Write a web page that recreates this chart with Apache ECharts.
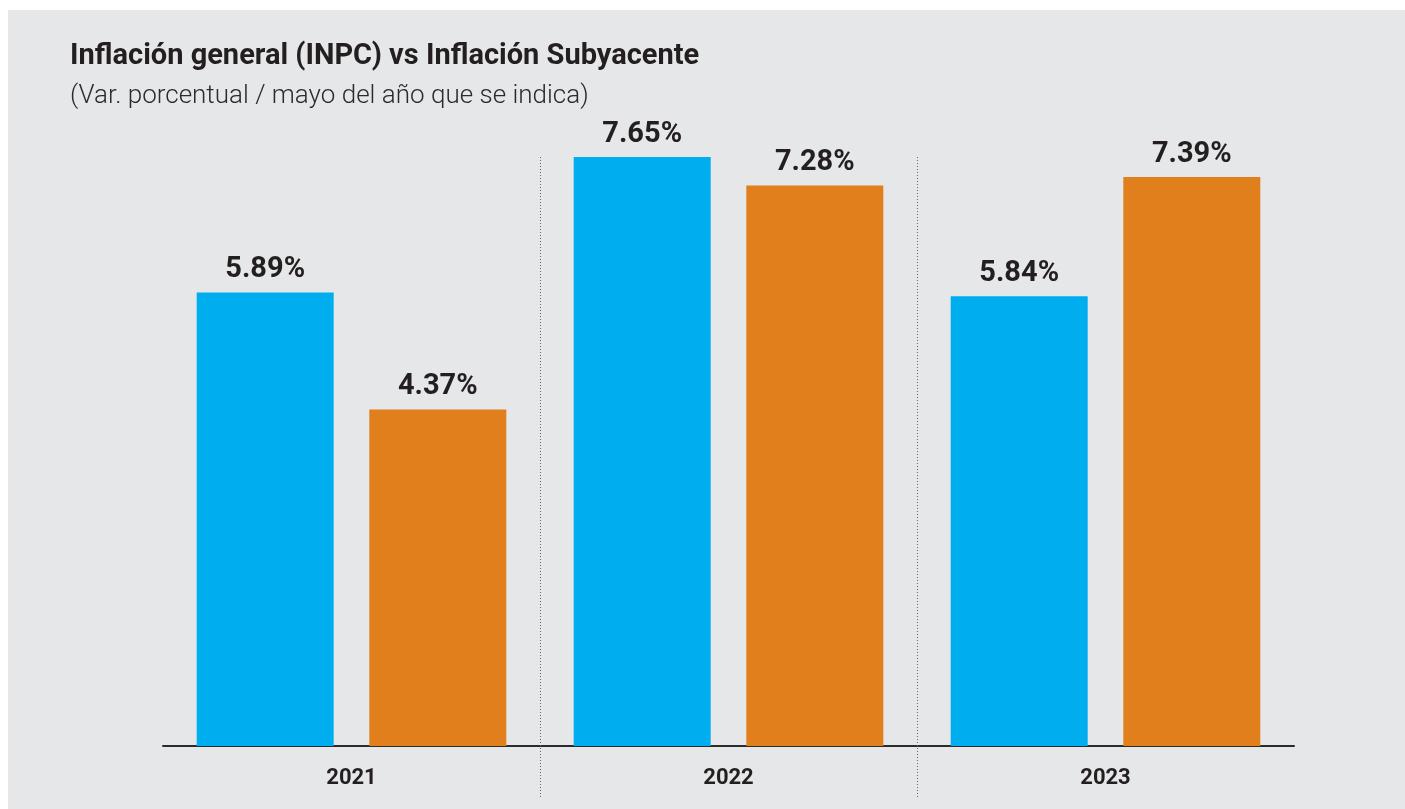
<!DOCTYPE html>
<html>
<head>
<meta charset="utf-8">
<script src="https://cdn.jsdelivr.net/npm/echarts@6/dist/echarts.min.js"></script>
<style>
  html, body { margin: 0; padding: 0; background: #ffffff; }
  #chart { position: absolute; left: 8px; top: 10px; width: 1397px; height: 799px; }
</style>
</head>
<body>
<div id="chart"></div>
<script>
// datos: mayo de cada año
var years = ['2021', '2022', '2023'];
var inpc = [5.89, 7.65, 5.84];        // inflación general
var subyacente = [4.37, 7.28, 7.39];  // inflación subyacente

var FONT = "'Roboto', sans-serif";

var chart = echarts.init(document.getElementById('chart'));

var labelStyle = {
  show: true,
  position: 'top',
  distance: 8,
  fontFamily: FONT,
  fontWeight: 'bold',
  fontSize: 29,
  color: '#231f20',
  formatter: function (p) { return p.value.toFixed(2) + '%'; }
};

var option = {
  backgroundColor: '#e6e7e9',
  animation: false,
  title: {
    text: 'Inflación general (INPC) vs Inflación Subyacente',
    subtext: '(Var. porcentual / mayo del año que se indica)',
    left: 57,
    top: 27,
    itemGap: 12,
    textStyle: {
      fontFamily: FONT,
      fontWeight: 'bold',
      fontSize: 29,
      color: '#231f20'
    },
    subtextStyle: {
      fontFamily: FONT,
      fontWeight: 300,
      fontSize: 26,
      color: '#2b2b2b'
    }
  },
  grid: {
    left: 155,
    width: 1131,
    top: 120,
    bottom: 63
  },
  xAxis: {
    type: 'category',
    data: years,
    axisLine: { lineStyle: { color: '#2b2b2b', width: 2 } },
    axisTick: { show: false },
    axisLabel: {
      margin: 21,
      fontFamily: FONT,
      fontWeight: 'bold',
      fontSize: 22,
      color: '#231f20'
    }
  },
  yAxis: {
    type: 'value',
    min: 0,
    max: 8,
    show: false,
    splitLine: { show: false }
  },
  series: [{
    name: 'INPC',
    type: 'bar',
    data: inpc,
    barWidth: 137,
    barGap: '26%',
    itemStyle: { color: '#00aeef' },
    label: labelStyle
  }, {
    name: 'Subyacente',
    type: 'bar',
    data: subyacente,
    barWidth: 137,
    barGap: '26%',
    itemStyle: { color: '#e07f1c' },
    label: labelStyle
  }]
};
chart.setOption(option);

// separadores punteados entre años
var seps = [];
for (var i = 0; i < years.length - 1; i++) {
  var a = chart.convertToPixel({ xAxisIndex: 0 }, years[i]);
  var b = chart.convertToPixel({ xAxisIndex: 0 }, years[i + 1]);
  var x = Math.round((a + b) / 2) + 0.5;
  seps.push({
    type: 'line',
    z: 10,
    shape: { x1: x, y1: 147, x2: x, y2: 788 },
    style: { stroke: '#666', lineWidth: 1, lineDash: [1, 2] }
  });
}
chart.setOption({ graphic: seps });
</script>
</body>
</html>
